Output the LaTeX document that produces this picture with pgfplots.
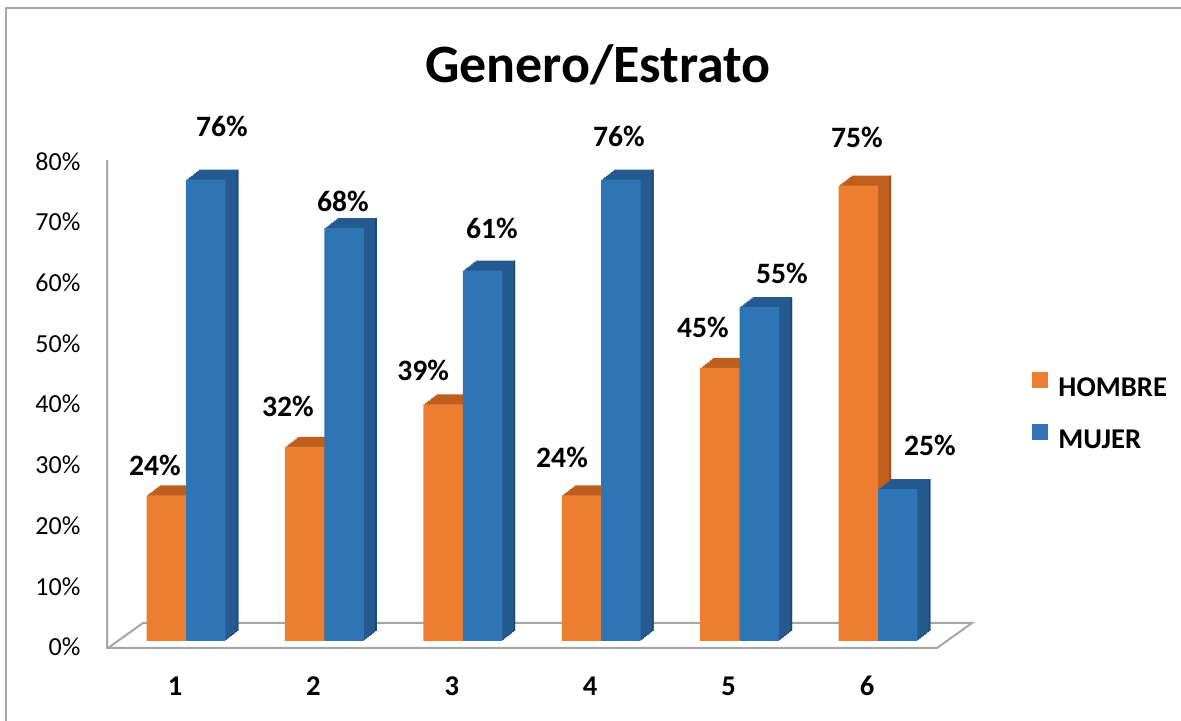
\documentclass[border=0pt]{standalone}
\usepackage{pgfplots}
\pgfplotsset{compat=1.18}
\usepackage{fontspec}
\setmainfont{Carlito}
\definecolor{orng}{HTML}{ED7D31}
\definecolor{orngT}{HTML}{BF5F1E}
\definecolor{orngS}{HTML}{9E4F1B}
\definecolor{blu}{HTML}{2E75B6}
\definecolor{bluT}{HTML}{255A90}
\definecolor{bluS}{HTML}{1E4870}
\definecolor{floorgray}{HTML}{A6A6A6}
\pgfplotstableread{
x hombre mujer
1 24 76
2 32 68
3 39 61
4 24 76
5 45 55
6 75 25
}\datatable
\begin{document}
\begin{tikzpicture}
\useasboundingbox (0,0) rectangle (590.5pt,360.5pt);
\draw[gray!70, line width=0.6pt] (3pt,-10pt) -- (3pt,356.5pt) -- (600pt,356.5pt);
\draw[floorgray, line width=1pt, line join=miter] (53.5pt,280.5pt) -- (53.5pt,36.5pt) -- (468.5pt,36.5pt) -- (486pt,49pt) -- (71.5pt,49pt) -- (54pt,36.5pt);
\node[font=\fontsize{27}{31}\selectfont\bfseries] at (299pt,328pt) {Genero/Estrato};
\begin{axis}[
  at={(58.4pt,40pt)}, anchor=south west,
  scale only axis, width=415.2pt, height=242.8pt,
  xmin=0.5, xmax=6.5, ymin=0, ymax=80,
  axis line style={draw=none}, tick style={draw=none},
  clip=false,
  xtick={1,...,6},
  xticklabel style={font=\fontsize{14.3}{16}\selectfont\bfseries, anchor=center, yshift=-22.5pt, xshift=-5.5pt},
  ytick={0,10,...,80},
  yticklabel={\pgfmathprintnumber{\tick}\%},
  yticklabel style={font=\fontsize{13}{15}\selectfont, anchor=east, inner sep=0pt, xshift=-18pt, yshift=-3pt},
  /pgf/number format/assume math mode=true,
  legend style={draw=none, fill=none, at={(1.095,0.563)}, anchor=north west,
    font=\fontsize{14.3}{16}\selectfont\bfseries, row sep=9pt,
    nodes={inner sep=2pt, text height=10pt, text depth=3pt}},
  legend cell align=left,
]
% depth (top faces)
\pgfplotsinvokeforeach{1,...,8}{
  \addplot[ybar, bar width=0.285, bar shift=-0.1425, draw=none, fill=orngT,
    xshift=#1*0.8125pt, yshift=#1*0.625pt, forget plot] table[x=x,y=hombre] {\datatable};
  \addplot[ybar, bar width=0.012, bar shift=-0.006, draw=none, fill=orngS,
    xshift=#1*0.8125pt, yshift=#1*0.625pt, forget plot] table[x=x,y=hombre] {\datatable};
}
\pgfplotsinvokeforeach{1,...,8}{
  \addplot[ybar, bar width=0.285, bar shift=0.1425, draw=none, fill=bluT,
    xshift=#1*0.8125pt, yshift=#1*0.625pt, forget plot] table[x=x,y=mujer] {\datatable};
  \addplot[ybar, bar width=0.012, bar shift=0.279, draw=none, fill=bluS,
    xshift=#1*0.8125pt, yshift=#1*0.625pt, forget plot] table[x=x,y=mujer] {\datatable};
}
% front faces
\addplot[ybar, bar width=0.285, bar shift=-0.1425, draw=none, fill=orng,
  legend image code/.code={\fill[orng] (0pt,0.5pt) rectangle (8pt,8.5pt); \path (11pt,4pt);}]
  table[x=x,y=hombre] {\datatable};
\addplot[ybar, bar width=0.285, bar shift=0.1425, draw=none, fill=blu,
  legend image code/.code={\fill[blu] (0pt,0.5pt) rectangle (8pt,8.5pt); \path (11pt,4pt);}]
  table[x=x,y=mujer] {\datatable};
\legend{HOMBRE, MUJER}
\begin{scope}[every node/.style={font=\fontsize{14.8}{17}\selectfont\bfseries}]
\node at (axis cs:0.776,29.0) {24\%};
\node at (axis cs:1.260,84.7) {76\%};
\node at (axis cs:1.737,38.6) {32\%};
\node at (axis cs:2.134,72.5) {68\%};
\node at (axis cs:2.713,44.6) {39\%};
\node at (axis cs:3.211,67.9) {61\%};
\node at (axis cs:3.717,30.3) {24\%};
\node at (axis cs:4.128,83.2) {76\%};
\node at (axis cs:4.735,51.7) {45\%};
\node at (axis cs:5.306,60.5) {55\%};
\node at (axis cs:5.848,82.9) {75\%};
\node at (axis cs:6.375,32.3) {25\%};
\end{scope}
\end{axis}
\end{tikzpicture}
\end{document}
